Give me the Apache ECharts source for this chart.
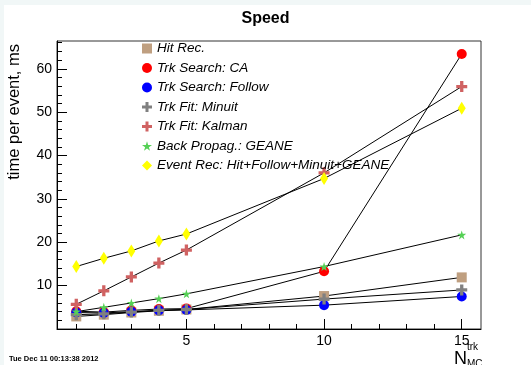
<!DOCTYPE html>
<html>
<head>
<meta charset="utf-8">
<script src="https://cdn.jsdelivr.net/npm/echarts@6/dist/echarts.min.js"></script>
<style>
  html, body { margin: 0; padding: 0; background: #fff; }
  #speedChart { width: 531px; height: 365px; }
</style>
</head>
<body>
<div id="speedChart"></div>
<script>
// number of MC tracks
var nTrk = [1, 2, 3, 4, 5, 10, 15];
// time per event, ms
var hitRec = [2.9, 3.3, 3.8, 4.2, 4.5, 7.6, 11.9];
var trkSearchCA = [4.1, 3.9, 4.3, 4.6, 4.7, 13.3, 63.4];
var trkSearchFollow = [3.8, 3.7, 4.0, 4.3, 4.4, 5.5, 7.5];
var trkFitMinuit = [3.3, 3.5, 3.9, 4.3, 4.5, 6.9, 9.0];
var trkFitKalman = [5.7, 8.8, 12.0, 15.2, 18.2, 36.0, 55.9];
var backPropGeane = [4.0, 5.0, 6.0, 7.0, 8.1, 14.4, 21.7];
var eventRec = [14.4, 16.3, 18.0, 20.3, 21.9, 34.7, 50.9];

var names = ['Hit Rec.', 'Trk Search: CA', 'Trk Search: Follow', 'Trk Fit: Minuit',
  'Trk Fit: Kalman', 'Back Propag.: GEANE', 'Event Rec: Hit+Follow+Minuit+GEANE'];

var xLabels = [5, 10, 15];
var xMinor = [1, 2, 3, 4, 6, 7, 8, 9, 11, 12, 13, 14];
var yLabels = [10, 20, 30, 40, 50, 60];
var yMajor = [0, 10, 20, 30, 40, 50, 60];
var yMinor = [2, 4, 6, 8, 12, 14, 16, 18, 22, 24, 26, 28, 32, 34, 36, 38, 42, 44, 46, 48, 52, 54, 56, 58, 62, 64, 66];

var crossPath = 'path://M35,0H65V35H100V65H65V100H35V65H0V35H35Z';
var starPath = 'path://M50,0L61,35L98,35L68,57L79,91L50,70L21,91L32,57L2,35L39,35Z';

function pairs(vals) {
  return nTrk.map(function (x, i) { return [x, vals[i]]; });
}

// 每条曲线：黑色连线 + 彩色标记
function makeSeries(name, vals, symbol, size, color) {
  return {
    name: name,
    type: 'line',
    data: pairs(vals),
    symbol: symbol,
    symbolSize: size,
    showAllSymbol: true,
    lineStyle: { color: '#000', width: 1 },
    itemStyle: { color: color },
    emphasis: { disabled: true },
    animation: false
  };
}

var myChart = echarts.init(document.getElementById('speedChart'));

var option = {
  backgroundColor: '#fff',
  animation: false,
  title: {
    text: 'Speed',
    left: 'center',
    top: 6,
    textStyle: { fontFamily: 'Arial', fontSize: 16, fontWeight: 'bold', color: '#000' }
  },
  legend: {
    orient: 'vertical',
    left: 137,
    top: 36.5,
    itemWidth: 10,
    itemHeight: 10,
    itemGap: 5.5,
    selectedMode: false,
    textStyle: { fontFamily: 'Arial', fontSize: 13.5, fontStyle: 'italic', color: '#000', padding: [0, 0, 0, 0] },
    data: [
      { name: names[0], icon: 'rect', itemStyle: { color: '#bf9f80' } },
      { name: names[1], icon: 'circle', itemStyle: { color: '#ff0000' } },
      { name: names[2], icon: 'circle', itemStyle: { color: '#0000ff' } },
      { name: names[3], icon: crossPath, itemStyle: { color: '#808080' } },
      { name: names[4], icon: crossPath, itemStyle: { color: '#d06262' } },
      { name: names[5], icon: starPath, itemStyle: { color: '#55d055' } },
      { name: names[6], icon: 'diamond', itemStyle: { color: '#ffff00' } }
    ]
  },
  grid: {
    left: 57,
    top: 41,
    right: 50,
    bottom: 36,
    show: true,
    borderColor: '#333',
    borderWidth: 1,
    backgroundColor: 'transparent'
  },
  xAxis: [
    {
      type: 'value',
      min: 0.3,
      max: 15.7,
      splitLine: { show: false },
      axisLine: { onZero: false, lineStyle: { color: '#000', width: 1 } },
      axisTick: { inside: true, length: 10, customValues: xLabels, lineStyle: { color: '#000' } },
      axisLabel: { customValues: xLabels, fontFamily: 'Arial', fontSize: 14, color: '#000', margin: 5 }
    },
    {
      type: 'value',
      position: 'bottom',
      offset: 0,
      min: 0.3,
      max: 15.7,
      splitLine: { show: false },
      axisLine: { show: false, onZero: false },
      axisTick: { inside: true, length: 5, customValues: xMinor, lineStyle: { color: '#000' } },
      axisLabel: { show: false }
    }
  ],
  yAxis: [
    {
      type: 'value',
      min: 0,
      max: 66.4,
      splitLine: { show: false },
      axisLine: { show: true, onZero: false, lineStyle: { color: '#000', width: 1 } },
      axisTick: { show: true, inside: true, length: 10, customValues: yMajor, lineStyle: { color: '#000' } },
      axisLabel: { customValues: yLabels, fontFamily: 'Arial', fontSize: 14, color: '#000', margin: 5 }
    },
    {
      type: 'value',
      position: 'left',
      offset: 0,
      min: 0,
      max: 66.4,
      splitLine: { show: false },
      axisLine: { show: false, onZero: false },
      axisTick: { show: true, inside: true, length: 5, customValues: yMinor, lineStyle: { color: '#000' } },
      axisLabel: { show: false }
    }
  ],
  graphic: [
    { type: 'rect', left: 0, top: 0, shape: { width: 531, height: 5 }, style: { fill: '#f1f7f7' }, silent: true },
    { type: 'rect', left: 0, top: 0, shape: { width: 4, height: 365 }, style: { fill: '#f1f7f7' }, silent: true },
    {
      type: 'text', x: 6, y: 44, rotation: Math.PI / 2,
      style: { text: 'time per event, ms', fontFamily: 'Arial', fontSize: 16.5, fill: '#000', align: 'right', verticalAlign: 'top' }
    },
    { type: 'text', left: 454, top: 350, style: { text: 'N', fontFamily: 'Arial', fontSize: 18, fill: '#000' } },
    { type: 'text', left: 467, top: 342, style: { text: 'trk', fontFamily: 'Arial', fontSize: 10, fill: '#000' } },
    { type: 'text', left: 467, top: 359, style: { text: 'MC', fontFamily: 'Arial', fontSize: 10, fill: '#000' } },
    { type: 'text', left: 9, top: 355, style: { text: 'Tue Dec 11 00:13:38 2012', fontFamily: 'Arial', fontSize: 7.5, fontWeight: 'bold', fill: '#000' } }
  ],
  series: [
    makeSeries(names[0], hitRec, 'rect', 10, '#bf9f80'),
    makeSeries(names[1], trkSearchCA, 'circle', 10, '#ff0000'),
    makeSeries(names[2], trkSearchFollow, 'circle', 10, '#0000ff'),
    makeSeries(names[3], trkFitMinuit, crossPath, 11, '#808080'),
    makeSeries(names[4], trkFitKalman, crossPath, 11, '#d06262'),
    makeSeries(names[5], backPropGeane, starPath, 9, '#55d055'),
    makeSeries(names[6], eventRec, 'diamond', [8, 13], '#ffff00')
  ]
};

myChart.setOption(option);
</script>
</body>
</html>
